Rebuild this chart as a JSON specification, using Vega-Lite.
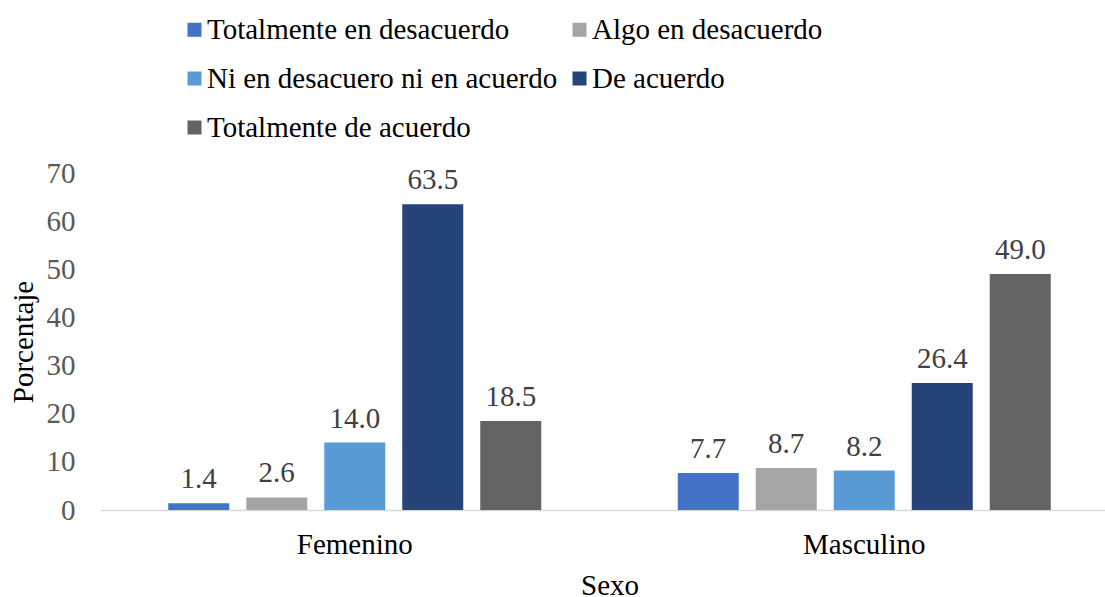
{
  "$schema": "https://vega.github.io/schema/vega-lite/v6.json",
  "width": 1005,
  "height": 337,
  "autosize": {"type": "none"},
  "padding": {"left": 100, "top": 173, "right": 0, "bottom": 87},
  "background": "white",
  "config": {
    "view": {"stroke": null},
    "font": "Liberation Serif"
  },
  "data": {
    "values": [
      {"Sexo": "Femenino", "Respuesta": "Totalmente en desacuerdo", "Porcentaje": 1.4},
      {"Sexo": "Femenino", "Respuesta": "Algo en desacuerdo", "Porcentaje": 2.6},
      {"Sexo": "Femenino", "Respuesta": "Ni en desacuero ni en acuerdo", "Porcentaje": 14.0},
      {"Sexo": "Femenino", "Respuesta": "De acuerdo", "Porcentaje": 63.5},
      {"Sexo": "Femenino", "Respuesta": "Totalmente de acuerdo", "Porcentaje": 18.5},
      {"Sexo": "Masculino", "Respuesta": "Totalmente en desacuerdo", "Porcentaje": 7.7},
      {"Sexo": "Masculino", "Respuesta": "Algo en desacuerdo", "Porcentaje": 8.7},
      {"Sexo": "Masculino", "Respuesta": "Ni en desacuero ni en acuerdo", "Porcentaje": 8.2},
      {"Sexo": "Masculino", "Respuesta": "De acuerdo", "Porcentaje": 26.4},
      {"Sexo": "Masculino", "Respuesta": "Totalmente de acuerdo", "Porcentaje": 49.0}
    ]
  },
  "encoding": {
    "x": {
      "field": "Sexo", "type": "nominal",
      "scale": {"range": [0, 1019], "paddingInner": 0, "paddingOuter": 0},
      "axis": {
        "title": "Sexo", "labelAngle": 0, "labelFont": "Liberation Serif", "labelFontSize": 29,
        "labelColor": "#000000", "titleFont": "Liberation Serif", "titleFontSize": 29,
        "titleFontWeight": "normal", "titleColor": "#000000", "ticks": false,
        "domainColor": "#D9D9D9", "domainWidth": 1.5, "labelPadding": 20, "titlePadding": 12
      }
    },
    "xOffset": {
      "field": "Respuesta", "type": "nominal",
      "sort": ["Totalmente en desacuerdo", "Algo en desacuerdo", "Ni en desacuero ni en acuerdo", "De acuerdo", "Totalmente de acuerdo"],
      "scale": {"paddingInner": 0.218, "paddingOuter": 0.875}
    },
    "y": {
      "field": "Porcentaje", "type": "quantitative",
      "scale": {"domain": [0, 70], "nice": false},
      "axis": {
        "title": "Porcentaje", "values": [0, 10, 20, 30, 40, 50, 60, 70], "grid": false, "domain": false,
        "ticks": false, "labelFont": "Liberation Serif", "labelFontSize": 29, "labelColor": "#595959",
        "labelPadding": 25, "titleFont": "Liberation Serif", "titleFontSize": 29, "titleFontWeight": "normal",
        "titleColor": "#000000", "titlePadding": 8
      }
    }
  },
  "layer": [
    {
      "mark": {"type": "bar"},
      "encoding": {
        "color": {
          "field": "Respuesta", "type": "nominal",
          "sort": ["Totalmente en desacuerdo", "Algo en desacuerdo", "Ni en desacuero ni en acuerdo", "De acuerdo", "Totalmente de acuerdo"],
          "scale": {
            "domain": ["Totalmente en desacuerdo", "Algo en desacuerdo", "Ni en desacuero ni en acuerdo", "De acuerdo", "Totalmente de acuerdo"],
            "range": ["#4472C4", "#A5A5A5", "#5B9BD5", "#264478", "#636363"]
          },
          "legend": {
            "title": null, "orient": "none", "legendX": 80, "legendY": -158, "columns": 2,
            "direction": "horizontal", "symbolType": "square", "symbolSize": 196, "symbolStrokeWidth": 0,
            "labelFont": "Liberation Serif", "labelFontSize": 29, "labelColor": "#000000", "labelOffset": -2,
            "rowPadding": 19, "columnPadding": 7, "padding": 0, "labelLimit": 600
          }
        }
      }
    },
    {
      "mark": {"type": "text", "baseline": "bottom", "dy": -9, "fontSize": 29, "font": "Liberation Serif", "color": "#404040"},
      "encoding": {
        "text": {"field": "Porcentaje", "type": "quantitative", "format": ".1f"}
      }
    }
  ]
}
